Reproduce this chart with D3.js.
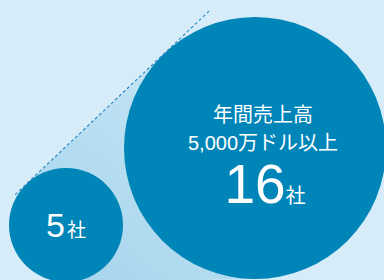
<!DOCTYPE html>
<html>
<head>
<meta charset="utf-8">
<script src="https://cdn.jsdelivr.net/npm/d3@7"></script>
<style>
  html, body { margin: 0; padding: 0; background: #d6edf9; }
  svg { display: block; }
  text { font-family: "Liberation Sans", "Noto Sans CJK JP", sans-serif; fill: #fff; }
</style>
</head>
<body>
<div id="vis"></div>
<script>
// companies per group
var counts = [5, 16];
var unitLabel = "社";
var titleLines = ["年間売上高", "5,000万ドル以上"];

const width = 384, height = 280;

// sizes and positions driven by count
const rScale = d3.scaleLinear().domain([5, 16]).range([57, 131]);
const xScale = d3.scaleLinear().domain([5, 16]).range([66, 255]);
const yScale = d3.scaleLinear().domain([5, 16]).range([225, 148]);

const circles = counts.map(c => ({count: c, cx: xScale(c), cy: yScale(c), r: rScale(c)}));

var svg = d3.select("div#vis").append("svg").attr("width", width).attr("height", height);

const defs = svg.append("defs");
const grad = defs.append("linearGradient")
  .attr("id", "hull")
  .attr("gradientUnits", "userSpaceOnUse")
  .attr("x1", 40).attr("y1", 260).attr("x2", 210).attr("y2", 40);
grad.append("stop").attr("offset", 0).attr("stop-color", "#a6d5ed");
grad.append("stop").attr("offset", 1).attr("stop-color", "#c9e7f6");

// external tangents between the two circles
const a = circles[0], b = circles[1];
const dx = b.cx - a.cx, dy = b.cy - a.cy;
const d = Math.hypot(dx, dy);
const base = Math.atan2(dy, dx);
const phi = Math.acos((a.r - b.r) / d);
const tangent = (sign) => {
  const ang = base + sign * phi;
  const nx = Math.cos(ang), ny = Math.sin(ang);
  return [[a.cx + a.r * nx, a.cy + a.r * ny], [b.cx + b.r * nx, b.cy + b.r * ny]];
};
const t1 = tangent(-1), t2 = tangent(1);

svg.append("path")
  .attr("d", d3.line()([t1[0], t1[1], t2[1], t2[0]]) + "Z")
  .attr("fill", "url(#hull)");

svg.selectAll("circle.bubble").data(circles)
  .enter()
  .append("circle")
  .attr("class", "bubble")
  .attr("cx", c => c.cx)
  .attr("cy", c => c.cy)
  .attr("r", c => c.r)
  .attr("fill", "#0085b9");

// dashed guide along the upper tangent
const ux = (t1[1][0] - t1[0][0]), uy = (t1[1][1] - t1[0][1]);
const ul = Math.hypot(ux, uy);
svg.append("line")
  .attr("x1", t1[0][0] - ux / ul * 16)
  .attr("y1", t1[0][1] - uy / ul * 16)
  .attr("x2", t1[1][0] + ux / ul * 62)
  .attr("y2", t1[1][1] + uy / ul * 62)
  .attr("stroke", "#2685c2")
  .attr("stroke-width", 1.1)
  .attr("stroke-dasharray", "3,2.5");

// small circle label
const s = svg.append("text")
  .attr("x", a.cx)
  .attr("y", a.cy + 12)
  .attr("text-anchor", "middle");
s.append("tspan").attr("font-size", 34).text(a.count);
s.append("tspan").attr("font-size", 19).attr("dx", 2).text(unitLabel);

// big circle labels
svg.selectAll("text.title").data(titleLines)
  .enter()
  .append("text")
  .attr("class", "title")
  .attr("x", b.cx + 8)
  .attr("y", (t, i) => 122 + i * 28)
  .attr("text-anchor", "middle")
  .attr("font-size", 20)
  .text(t => t);

const bigT = svg.append("text")
  .attr("x", b.cx + 10)
  .attr("y", 203)
  .attr("text-anchor", "middle");
bigT.append("tspan").attr("font-size", 55).text(b.count);
bigT.append("tspan").attr("font-size", 20).text(unitLabel);
</script>
</body>
</html>
